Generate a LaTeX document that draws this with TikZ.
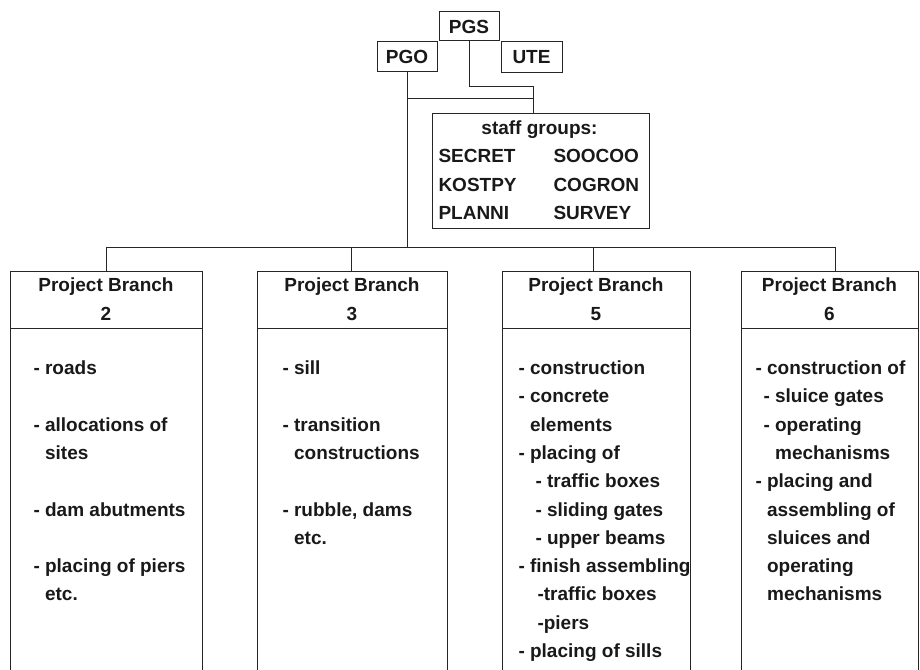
\documentclass[tikz,border=0pt]{standalone}
\usepackage{fontspec}
\setmainfont{Liberation Sans}
\newcommand\myind{\hphantom{-\ }}
\begin{document}
\begin{tikzpicture}[x=1pt,y=-1pt,line width=1pt,
  box/.style={draw=black!85,rectangle,inner sep=0pt},
  txt/.style={font=\bfseries\fontsize{19}{28.3}\selectfont,inner sep=0pt,text=black!90},
  hdr/.style={box,txt,font=\bfseries\fontsize{19}{29}\selectfont,align=center,minimum height=57pt},
  body/.style={box,anchor=north,minimum height=360pt},
  list/.style={txt,align=left,anchor=north west},
  conn/.style={draw=black!85,line width=1pt}]
\useasboundingbox (0,0) rectangle (920,669);
\clip (0,0) rectangle (920,669);

% top boxes
\node[box,txt,minimum width=60pt,minimum height=29pt] (pgs) at (469,26.5) {PGS};
\node[box,txt,minimum width=60pt,minimum height=29pt] (pgo) at (407,56.5) {PGO};
\node[box,txt,minimum width=61pt,minimum height=30pt] (ute) at (531.5,57) {UTE};

% staff box
\node[box,minimum width=217pt,minimum height=115pt] (staff) at (540.5,170.5) {};
\node[txt,anchor=base] (stafftitle) at (539.5,134) {staff groups:};
\node[list,font=\bfseries\fontsize{19}{28.5}\selectfont] (staffL) at (438,142.2) {\strut SECRET\\KOSTPY\\PLANNI};
\node[list,font=\bfseries\fontsize{19}{28.5}\selectfont] (staffR) at (553,142.2) {\strut SOOCOO\\COGRON\\SURVEY};

% branch headers and bodies
\node[hdr,minimum width=192pt] (h2) at (106,299.5) {Project Branch\\2};
\node[body,minimum width=192pt] (b2) at (106,328) {};
\node[hdr,minimum width=190pt] (h3) at (352,299.5) {Project Branch\\3};
\node[body,minimum width=190pt] (b3) at (352,328) {};
\node[hdr,minimum width=188pt] (h5) at (596,299.5) {Project Branch\\5};
\node[body,minimum width=188pt] (b5) at (596,328) {};
\node[hdr,minimum width=177pt] (h6) at (829.5,299.5) {Project Branch\\6};
\node[body,minimum width=177pt] (b6) at (829.5,328) {};

% connectors
\coordinate (j1) at (533,86);
\coordinate (j2) at (533,98);
\coordinate (bus) at (0,247);
\path[conn] (pgs.south) |- (j1) -- (j1 |- staff.north);
\path[conn] (pgo.south) -- (pgo.south |- bus);
\path[conn] (pgo.south |- j2) -- (j2);
\path[conn] (h2.north) |- ([xshift=6pt]h6.north |- bus) -- ([xshift=6pt]h6.north);
\path[conn] ([xshift=-1pt]h3.north) -- ([xshift=-1pt]h3.north |- bus);
\path[conn] ([xshift=-3pt]h5.north) -- ([xshift=-3pt]h5.north |- bus);

% lists
\node[list] (l2) at (33,354.2) {\strut- roads\\[28.3pt]
- allocations of\\
\myind sites\\[28.3pt]
- dam abutments\\[28.3pt]
- placing of piers\\
\myind etc.};
\node[list] (l3) at (282,354.2) {\strut- sill\\[28.3pt]
- transition\\
\myind constructions\\[28.3pt]
- rubble, dams\\
\myind etc.};
\node[list] (l5) at (518,354.2) {\strut- construction\\
- concrete\\
\myind elements\\
- placing of\\
\hspace{17pt}- traffic boxes\\
\hspace{17pt}- sliding gates\\
\hspace{17pt}- upper beams\\
- finish assembling\\
\hspace{19pt}-traffic boxes\\
\hspace{19pt}-piers\\
- placing of sills};
\node[list] (l6) at (755,354.2) {\strut- construction of\\
\hspace{8pt}- sluice gates\\
\hspace{8pt}- operating\\
\hspace{8pt}\myind mechanisms\\
- placing and\\
\myind assembling of\\
\myind sluices and\\
\myind operating\\
\myind mechanisms};
\end{tikzpicture}
\end{document}
